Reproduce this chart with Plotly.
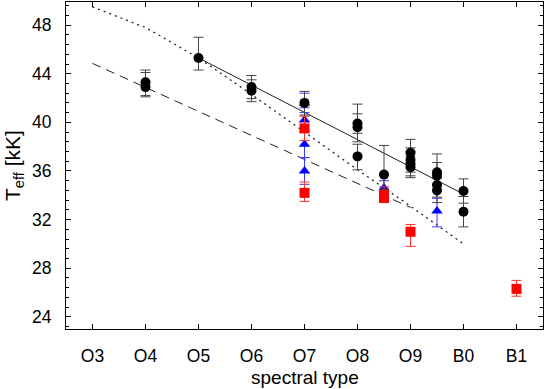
import plotly.graph_objects as go

# spectral type tick positions / labels
tick_vals = [3, 4, 5, 6, 7, 8, 9, 10, 11]
tick_text = ["O3", "O4", "O5", "O6", "O7", "O8", "O9", "B0", "B1"]

# black circles
blk_x = [4, 4, 5, 6, 6, 7, 8, 8, 8, 8.5, 9, 9, 9, 9, 9.5, 9.5, 9.5, 9.5, 10, 10]
blk_y = [43.3, 42.9, 45.3, 42.9, 42.6, 41.6, 39.9, 39.6, 37.2, 35.7, 37.5, 36.9, 36.6, 36.3,
         35.9, 35.6, 34.85, 34.4, 34.35, 32.65]
blk_up = [1.0, 1.2, 1.7, 0.95, 0.9, 0.95, 1.6, 1.1, 1.0, 2.4, 1.1, 1.0, 1.0, 0.9,
          1.5, 1.1, 1.0, 1.0, 1.0, 1.25]
blk_dn = [1.1, 0.8, 1.0, 0.95, 0.9, 1.0, 0.8, 1.2, 1.1, 1.2, 1.0, 1.0, 1.0, 0.85,
          1.0, 1.1, 1.0, 1.0, 1.0, 1.25]

# red squares
red_x = [7, 7, 8.5, 8.5, 9, 11]
red_y = [39.5, 34.2, 34.1, 33.8, 31.0, 26.3]
red_up = [1.0, 0.9, 0.6, 0.6, 0.6, 0.7]
red_dn = [1.0, 0.7, 0.6, 0.4, 1.2, 0.6]

# blue triangles
blu_x = [7, 7, 7, 7, 8.5, 9.5]
blu_y = [41.6, 40.2, 38.2, 36.0, 34.6, 32.7]
blu_up = [0.8, 1.0, 1.1, 1.1, 0.6, 1.05]
blu_dn = [0.8, 1.0, 1.1, 1.1, 0.6, 1.3]

# calibration lines
solid_x = [5, 10]
solid_y = [45.3, 34.1]
dot_x = [3, 4, 5, 6, 7, 8, 9, 10]
dot_y = [49.5, 47.8, 45.3, 42.3, 39.2, 36.1, 33.1, 30.0]
dash_x = [3, 9]
dash_y = [44.85, 33.0]

x_title = "spectral type"
y_title = "T<sub>eff</sub> [kK]"

fig = go.Figure()
fig.add_trace(go.Scatter(x=solid_x, y=solid_y, mode="lines",
                         line=dict(color="#222", width=1), showlegend=False))
fig.add_trace(go.Scatter(x=dot_x, y=dot_y, mode="lines",
                         line=dict(color="#222", width=1.3, dash="2px,4px"), showlegend=False))
fig.add_trace(go.Scatter(x=dash_x, y=dash_y, mode="lines",
                         line=dict(color="#222", width=1, dash="9px,6px"), showlegend=False))

fig.add_trace(go.Scatter(
    x=blu_x, y=blu_y, mode="markers",
    marker=dict(symbol="triangle-up", size=10, color="#0000ff"),
    error_y=dict(type="data", symmetric=False, array=blu_up, arrayminus=blu_dn,
                 color="#3b3bff", thickness=1, width=5),
    showlegend=False))
fig.add_trace(go.Scatter(
    x=red_x, y=red_y, mode="markers",
    marker=dict(symbol="square", size=10, color="#ff0000"),
    error_y=dict(type="data", symmetric=False, array=red_up, arrayminus=red_dn,
                 color="#ff3030", thickness=1, width=5),
    showlegend=False))
fig.add_trace(go.Scatter(
    x=blk_x, y=blk_y, mode="markers",
    marker=dict(symbol="circle", size=10, color="#000000"),
    error_y=dict(type="data", symmetric=False, array=blk_up, arrayminus=blk_dn,
                 color="#444444", thickness=1, width=5),
    showlegend=False))

font_family = "Liberation Sans, Arial, sans-serif"
fig.update_layout(
    width=545, height=389,
    margin=dict(l=66, r=2, t=2, b=60),
    paper_bgcolor="white", plot_bgcolor="white",
    font=dict(family=font_family, size=17.5, color="black"),
    xaxis=dict(range=[2.5, 11.5], tickmode="array", tickvals=tick_vals, ticktext=tick_text,
               ticks="inside", ticklen=5, tickcolor="black", showgrid=False, zeroline=False,
               showline=True, linecolor="black", linewidth=1, mirror="ticks",
               ticklabelstandoff=11, automargin=False),
    yaxis=dict(range=[23.0, 49.9], tick0=0, dtick=4, ticks="inside", ticklen=5,
               tickcolor="black", showgrid=False, zeroline=False,
               showline=True, linecolor="black", linewidth=1, mirror="ticks",
               ticklabelstandoff=10, automargin=False,
               minor=dict(dtick=0.8, ticks="inside", ticklen=3, tickcolor="black", showgrid=False)),
    annotations=[
        dict(text=x_title, xref="paper", yref="paper", x=0.5, y=-0.147,
             xanchor="center", yanchor="middle", showarrow=False, font=dict(size=19)),
        dict(text=y_title, xref="paper", yref="paper", x=-0.11, y=0.50,
             xanchor="center", yanchor="middle", textangle=-90, showarrow=False,
             font=dict(size=21)),
    ],
)

fig.write_html(
    "out.html",
    config={"displayModeBar": False},
    post_script="document.body.style.margin='0px';document.body.style.overflow='hidden';",
)
